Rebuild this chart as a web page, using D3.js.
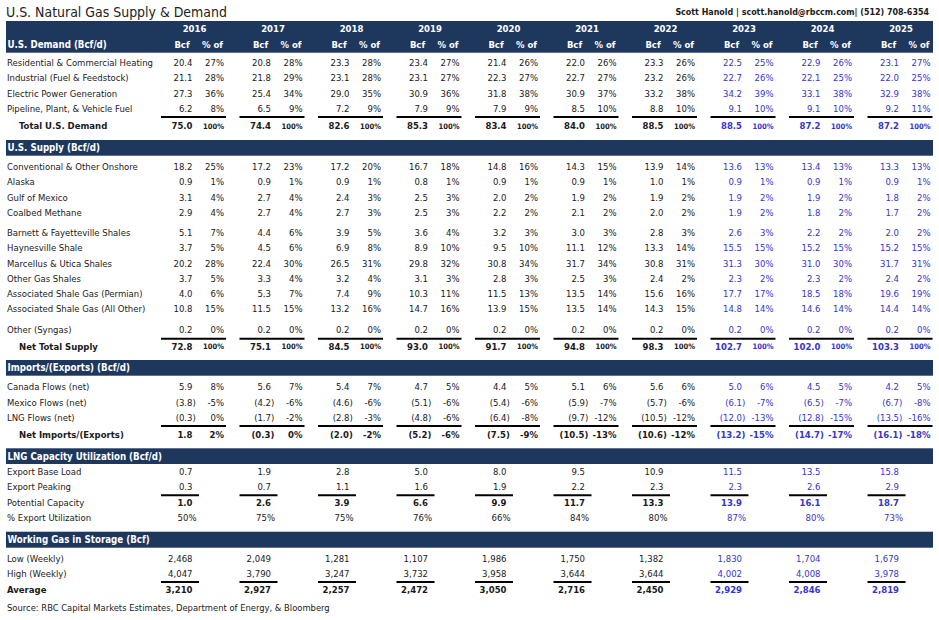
<!DOCTYPE html>
<html><head><meta charset="utf-8">
<script src="https://cdn.jsdelivr.net/npm/d3@7"></script>
<style>body{margin:0;background:#fff}svg{display:block}</style>
</head><body>
<svg id="c" width="939" height="620"></svg>
<script>
// ---------------- DATA ----------------
const title = "U.S. Natural Gas Supply & Demand";
const contact = "Scott Hanold | scott.hanold@rbccm.com| (512) 708-6354";
const source = "Source: RBC Capital Markets Estimates, Department of Energy, & Bloomberg";
const years = [2016, 2017, 2018, 2019, 2020, 2021, 2022, 2023, 2024, 2025];
const forecastYears = [2023, 2024, 2025];
const subHeaders = ["Bcf", "% of"];
const sectionTitles = ["U.S. Demand (Bcf/d)", "U.S. Supply (Bcf/d)", "Imports/(Exports) (Bcf/d)",
  "LNG Capacity Utilization (Bcf/d)", "Working Gas in Storage (Bcf)"];

const demandLabels = ["Residential & Commercial Heating", "Industrial (Fuel & Feedstock)",
  "Electric Power Generation", "Pipeline, Plant, & Vehicle Fuel"];
const demandBcf = [
  [20.4, 20.8, 23.3, 23.4, 21.4, 22.0, 23.3, 22.5, 22.9, 23.1],
  [21.1, 21.8, 23.1, 23.1, 22.3, 22.7, 23.2, 22.7, 22.1, 22.0],
  [27.3, 25.4, 29.0, 30.9, 31.8, 30.9, 33.2, 34.2, 33.1, 32.9],
  [6.2, 6.5, 7.2, 7.9, 7.9, 8.5, 8.8, 9.1, 9.1, 9.2]];
const demandPct = [
  [27, 28, 28, 27, 26, 26, 26, 25, 26, 27],
  [28, 29, 28, 27, 27, 27, 26, 26, 25, 25],
  [36, 34, 35, 36, 38, 37, 38, 39, 38, 38],
  [8, 9, 9, 9, 9, 10, 10, 10, 10, 11]];
const demandTotalLabel = "Total U.S. Demand";
const demandTotal = [75.0, 74.4, 82.6, 85.3, 83.4, 84.0, 88.5, 88.5, 87.2, 87.2];
const demandTotalPct = [100, 100, 100, 100, 100, 100, 100, 100, 100, 100];

const supplyLabels = ["Conventional & Other Onshore", "Alaska", "Gulf of Mexico", "Coalbed Methane",
  "Barnett & Fayetteville Shales", "Haynesville Shale", "Marcellus & Utica Shales", "Other Gas Shales",
  "Associated Shale Gas (Permian)", "Associated Shale Gas (All Other)", "Other (Syngas)"];
const supplyGapBefore = [4, 10];
const supplyBcf = [
  [18.2, 17.2, 17.2, 16.7, 14.8, 14.3, 13.9, 13.6, 13.4, 13.3],
  [0.9, 0.9, 0.9, 0.8, 0.9, 0.9, 1.0, 0.9, 0.9, 0.9],
  [3.1, 2.7, 2.4, 2.5, 2.0, 1.9, 1.9, 1.9, 1.9, 1.8],
  [2.9, 2.7, 2.7, 2.5, 2.2, 2.1, 2.0, 1.9, 1.8, 1.7],
  [5.1, 4.4, 3.9, 3.6, 3.2, 3.0, 2.8, 2.6, 2.2, 2.0],
  [3.7, 4.5, 6.9, 8.9, 9.5, 11.1, 13.3, 15.5, 15.2, 15.2],
  [20.2, 22.4, 26.5, 29.8, 30.8, 31.7, 30.8, 31.3, 31.0, 31.7],
  [3.7, 3.3, 3.2, 3.1, 2.8, 2.5, 2.4, 2.3, 2.3, 2.4],
  [4.0, 5.3, 7.4, 10.3, 11.5, 13.5, 15.6, 17.7, 18.5, 19.6],
  [10.8, 11.5, 13.2, 14.7, 13.9, 13.5, 14.3, 14.8, 14.6, 14.4],
  [0.2, 0.2, 0.2, 0.2, 0.2, 0.2, 0.2, 0.2, 0.2, 0.2]];
const supplyPct = [
  [25, 23, 20, 18, 16, 15, 14, 13, 13, 13],
  [1, 1, 1, 1, 1, 1, 1, 1, 1, 1],
  [4, 4, 3, 3, 2, 2, 2, 2, 2, 2],
  [4, 4, 3, 3, 2, 2, 2, 2, 2, 2],
  [7, 6, 5, 4, 3, 3, 3, 3, 2, 2],
  [5, 6, 8, 10, 10, 12, 14, 15, 15, 15],
  [28, 30, 31, 32, 34, 34, 31, 30, 30, 31],
  [5, 4, 4, 3, 3, 3, 2, 2, 2, 2],
  [6, 7, 9, 11, 13, 14, 16, 17, 18, 19],
  [15, 15, 16, 16, 15, 14, 15, 14, 14, 14],
  [0, 0, 0, 0, 0, 0, 0, 0, 0, 0]];
const supplyTotalLabel = "Net Total Supply";
const supplyTotal = [72.8, 75.1, 84.5, 93.0, 91.7, 94.8, 98.3, 102.7, 102.0, 103.3];
const supplyTotalPct = [100, 100, 100, 100, 100, 100, 100, 100, 100, 100];

const importLabels = ["Canada Flows (net)", "Mexico Flows (net)", "LNG Flows (net)"];
const importBcf = [
  [5.9, 5.6, 5.4, 4.7, 4.4, 5.1, 5.6, 5.0, 4.5, 4.2],
  [-3.8, -4.2, -4.6, -5.1, -5.4, -5.9, -5.7, -6.1, -6.5, -6.7],
  [-0.3, -1.7, -2.8, -4.8, -6.4, -9.7, -10.5, -12.0, -12.8, -13.5]];
const importPct = [
  [8, 7, 7, 5, 5, 6, 6, 6, 5, 5],
  [-5, -6, -6, -6, -6, -7, -6, -7, -7, -8],
  [0, -2, -3, -6, -8, -12, -12, -13, -15, -16]];
const netImportLabel = "Net Imports/(Exports)";
const netImportBcf = [1.8, -0.3, -2.0, -5.2, -7.5, -10.5, -10.6, -13.2, -14.7, -16.1];
const netImportPct = [2, 0, -2, -6, -9, -13, -12, -15, -17, -18];

const lngLabels = ["Export Base Load", "Export Peaking", "Potential Capacity", "% Export Utilization"];
const lngBaseLoad = [0.7, 1.9, 2.8, 5.0, 8.0, 9.5, 10.9, 11.5, 13.5, 15.8];
const lngPeaking = [0.3, 0.7, 1.1, 1.6, 1.9, 2.2, 2.3, 2.3, 2.6, 2.9];
const lngPotential = [1.0, 2.6, 3.9, 6.6, 9.9, 11.7, 13.3, 13.9, 16.1, 18.7];
const lngUtil = [50, 75, 75, 76, 66, 84, 80, 87, 80, 73];

const storageLabels = ["Low (Weekly)", "High (Weekly)", "Average"];
const storageLow = [2468, 2049, 1281, 1107, 1986, 1750, 1382, 1830, 1704, 1679];
const storageHigh = [4047, 3790, 3247, 3732, 3958, 3644, 3644, 4002, 4008, 3978];
const storageAvg = [3210, 2927, 2257, 2472, 3050, 2716, 2450, 2929, 2846, 2819];

// ---------------- RENDER ----------------
const FONT = '"DejaVu Sans Condensed","DejaVu Sans",sans-serif';
const NAVY = "#1e375d", BLUE = "#3535cc", INK = "#1a1a1a";
const svg = d3.select("#c");
const g = svg.append("g").attr("font-family", FONT);

function measure(str, size, weight) {
  const t = g.append("text").attr("font-size", size).attr("font-weight", weight || "normal").text(str);
  const w = t.node().getComputedTextLength(); t.remove(); return w;
}
const FS = 10 * 146 / measure(demandLabels[0], 10);
const TFS = 10 * 221 / measure(title, 10);
const SFS = 10 * 323 / measure(source, 10);
const CFS = 10 * 254 / measure(contact, 10, "bold");
const SMALL = FS * 0.8;
const parW = measure(")", FS);

const x = d3.scaleBand().domain(years).range([155.25, 155.25 + 78.5 * years.length]);
const cx = yr => x(yr) + x.bandwidth() / 2;
const colorOf = yr => forecastYears.includes(yr) ? BLUE : INK;

const fmtNum = d3.format(".1f");
const fmtInt = d3.format(",");
const numStr = v => v < 0 ? "(" + fmtNum(-v) + ")" : fmtNum(v);
const pctStr = v => (v < 0 ? "-" : "") + Math.abs(v) + "%";

function txt(str, xx, yc, o = {}) {
  return g.append("text").attr("x", xx).attr("y", yc).attr("dy", "0.36em")
    .attr("font-size", o.size || FS).attr("font-weight", o.bold ? "bold" : "normal")
    .attr("text-anchor", o.anchor || "start").attr("fill", o.fill || INK).text(str);
}

// title + contact
txt(title, 6, 11.5, { size: TFS, fill: "#222" });
txt(contact, 929, 12, { size: CFS, bold: true, anchor: "end" });

const BX = 6, BW = 927;
function band(top, h, label, labelY) {
  g.append("rect").attr("x", BX).attr("y", top).attr("width", BW).attr("height", h).attr("fill", NAVY);
  txt(label, 7.5, labelY, { bold: true, fill: "#fff", size: FS * 1.02 });
}
function lines(yl, wide) {
  years.forEach(yr => {
    const c = cx(yr);
    g.append("line").attr("x1", c - 33.5).attr("x2", wide ? c + 31.5 : c + 4.5)
      .attr("y1", yl).attr("y2", yl).attr("stroke", "#000").attr("stroke-width", 2);
  });
}
function numAt(v, yr, yc, o = {}) {
  const right = cx(yr) - 2 + (v < 0 ? parW : 0);
  txt(numStr(v), right, yc, Object.assign({ anchor: "end", fill: colorOf(yr) }, o));
}
function pairRow(yc, label, bcf, pct, o = {}) {
  txt(label, o.indent ? 19 : 7, yc, { bold: o.bold });
  years.forEach((yr, i) => {
    numAt(bcf[i], yr, yc, { bold: o.bold });
    txt(pctStr(pct[i]), cx(yr) + 29.5, yc, {
      anchor: "end", fill: colorOf(yr), bold: o.bold,
      size: o.total ? SMALL : FS
    });
  });
}

// header band
g.append("rect").attr("x", BX).attr("y", 21).attr("width", BW).attr("height", 31.7).attr("fill", NAVY);
years.forEach(yr => {
  txt(String(yr), cx(yr), 29, { anchor: "middle", bold: true, fill: "#fff" });
  txt(subHeaders[0], cx(yr) - 12.5, 45, { anchor: "middle", bold: true, fill: "#fff" });
  txt(subHeaders[1], cx(yr) + 18, 45, { anchor: "middle", bold: true, fill: "#fff" });
});
txt(sectionTitles[0], 7.5, 45, { bold: true, fill: "#fff", size: FS * 1.02 });

const STEP = 15.25;
// demand
let y0 = 62.7;
demandLabels.forEach((l, i) => pairRow(y0 + i * STEP, l, demandBcf[i], demandPct[i]));
let last = y0 + (demandLabels.length - 1) * STEP;
lines(last + 8.5, true);
pairRow(last + 17.6, demandTotalLabel, demandTotal, demandTotalPct, { indent: true, total: true, bold: true });

// supply
band(140, 15.7, sectionTitles[1], 147.9);
y0 = 166.7;
let yy = y0;
supplyLabels.forEach((l, i) => {
  if (i > 0) yy += STEP + (supplyGapBefore.includes(i) ? 5 : 0);
  pairRow(yy, l, supplyBcf[i], supplyPct[i]);
});
lines(yy + 9.5, true);
pairRow(yy + 17.4, supplyTotalLabel, supplyTotal, supplyTotalPct, { indent: true, total: true, bold: true });

// imports
band(360, 15.7, sectionTitles[2], 367.9);
y0 = 387;
importLabels.forEach((l, i) => pairRow(y0 + i * STEP, l, importBcf[i], importPct[i]));
last = y0 + (importLabels.length - 1) * STEP;
lines(last + 8.6, true);
pairRow(last + 17.1, netImportLabel, netImportBcf, netImportPct, { indent: true, bold: true });

// LNG
band(448.3, 15.7, sectionTitles[3], 456.2);
y0 = 471.7;
const lngRows = [lngBaseLoad, lngPeaking, lngPotential];
lngRows.forEach((arr, i) => {
  const yc = y0 + i * STEP + (i === 2 ? 0.8 : 0);
  txt(lngLabels[i], 7, yc);
  years.forEach((yr, j) => numAt(arr[j], yr, yc, { bold: i === 2 }));
});
lines(y0 + STEP + 8.4, false);
const yU = y0 + 2 * STEP + 0.8 + 15;
txt(lngLabels[3], 7, yU);
years.forEach((yr, j) => txt(pctStr(lngUtil[j]), cx(yr) + 2, yU, { anchor: "end", fill: colorOf(yr) }));

// storage
band(531.7, 16, sectionTitles[4], 539.7);
y0 = 558.3;
[storageLow, storageHigh, storageAvg].forEach((arr, i) => {
  const yc = y0 + i * STEP + (i === 2 ? 0.5 : 0);
  txt(storageLabels[i], 7, yc, { bold: i === 2 });
  years.forEach((yr, j) => txt(fmtInt(arr[j]), cx(yr) - 2, yc,
    { anchor: "end", fill: colorOf(yr), bold: i === 2 }));
});
lines(y0 + STEP + 8.4, false);

// source
txt(source, 7, 607.3, { size: SFS });
</script>
</body></html>
